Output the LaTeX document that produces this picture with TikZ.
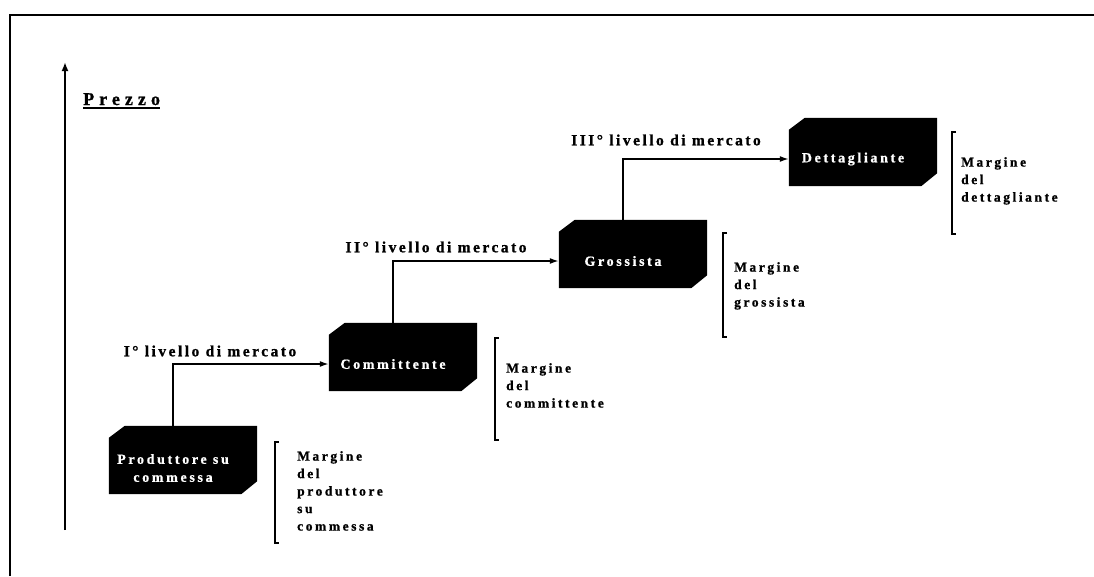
\documentclass[tikz,border=0pt]{standalone}
\usepackage{fontspec}
\setmainfont{Liberation Serif}
\newfontfamily\wideserif[LetterSpace=19,BoldFeatures={FakeBold=1}]{Liberation Serif}
\newfontfamily\levelserif[LetterSpace=16,BoldFeatures={FakeBold=1}]{Liberation Serif}
\newfontfamily\axisserif[LetterSpace=28,BoldFeatures={FakeBold=1}]{Liberation Serif}
\usetikzlibrary{arrows.meta,positioning,calc}

\tikzset{
  stage/.style={rectangle, minimum width=148pt, minimum height=68pt, inner sep=0pt},
  stagetext/.style={text=white, align=center, inner sep=0pt,
    font=\wideserif\bfseries\fontsize{14}{18}\selectfont},
  margintext/.style={anchor=north west, align=left, inner sep=0pt,
    font=\wideserif\bfseries\fontsize{13.5}{17.5}\selectfont},
  leveltext/.style={inner sep=0pt, font=\levelserif\bfseries\fontsize{15.5}{18}\selectfont},
  link/.style={line width=1.6pt, -{Latex[length=9pt,width=6pt]}},
  bracket/.style={line width=1.8pt},
}
% black block with cut corners (top left, bottom right)
\newcommand{\stageblock}[1]{%
  \fill ([xshift=16pt]#1.north west) -- (#1.north east) -- ([yshift=13pt]#1.south east)
    -- ([xshift=-16pt]#1.south east) -- (#1.south west) -- ([yshift=-12pt]#1.north west) -- cycle;}

\begin{document}
\begin{tikzpicture}[x=1pt, y=-1pt]
    \useasboundingbox (0,0) rectangle (1094,576);

    % Frame
    \draw[line width=2.5pt] (10,576) -- (10,15) -- (1094,15);

    % Price axis
    \coordinate (axisfoot) at (65,530);
    \coordinate (axishead) at (65,62);
    \draw[line width=2pt, -{Latex[length=9pt,width=7pt]}] (axisfoot) -- (axishead);
    \node[anchor=base west, inner sep=0pt, font=\axisserif\bfseries\fontsize{18}{20}\selectfont] (prezzo) at (83,105) {Prezzo};
    \draw[line width=1.5pt] ([yshift=-3pt]prezzo.base west) -- ([yshift=-3pt]prezzo.base east);

    % Stages
    \node[stage] (prod) at (183,460) {};
    \node[stage] (comm) at (403,357) {};
    \node[stage] (gross) at (633,254) {};
    \node[stage] (dett) at (863,152) {};
    \stageblock{prod}
    \stageblock{comm}
    \stageblock{gross}
    \stageblock{dett}
    \node[stagetext] (prodlbl) at ([xshift=-10pt,yshift=-8pt]prod.center) {Produttore su\\commessa};
    \node[stagetext] (commlbl) at ([xshift=-10pt,yshift=-7pt]comm.center) {Committente};
    \node[stagetext] (grosslbl) at ([xshift=-10pt,yshift=-7pt]gross.center) {Grossista};
    \node[stagetext] (dettlbl) at ([xshift=-10pt,yshift=-7pt]dett.center) {Dettagliante};

    % Market levels
    \draw[link] (prodlbl |- prod.north) |- (commlbl -| comm.west);
    \draw[link] (commlbl |- comm.north) |- (grosslbl -| gross.west);
    \draw[link] (grosslbl |- gross.north) |- (dettlbl -| dett.west);
    \node[leveltext] (lvlone) at (210,351) {I° livello di mercato};
    \node[leveltext] (lvltwo) at (436,247) {II° livello di mercato};
    \node[leveltext] (lvlthree) at (666,140) {III° livello di mercato};

    % Margins
    \draw[bracket] (279,442) -- (275,442) -- (275,543) -- (279,543);
    \draw[bracket] (499,338) -- (495,338) -- (495,440) -- (499,440);
    \draw[bracket] (727,233) -- (723,233) -- (723,337) -- (727,337);
    \draw[bracket] (956,132) -- (952,132) -- (952,234) -- (956,234);
    \node[margintext] (margprod) at (297,451) {Margine\\del\\produttore\\su\\commessa};
    \node[margintext] (margcomm) at (506,363) {Margine\\del\\committente};
    \node[margintext] (marggross) at (734,262) {Margine\\del\\grossista};
    \node[margintext] (margdett) at (961,157) {Margine\\del\\dettagliante};
\end{tikzpicture}
\end{document}
